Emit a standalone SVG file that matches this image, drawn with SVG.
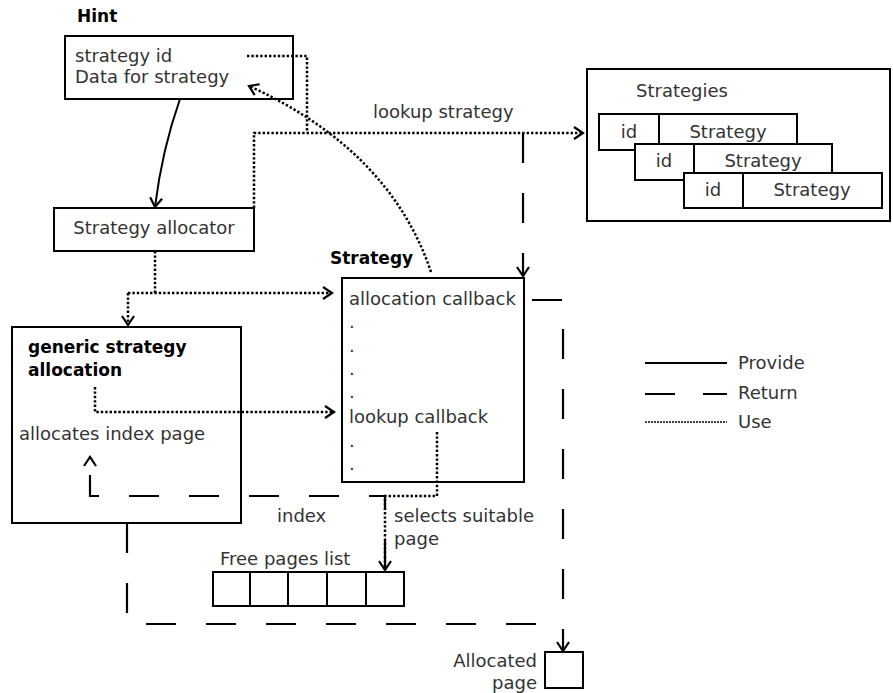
<svg xmlns="http://www.w3.org/2000/svg" width="893" height="693" viewBox="0 0 893 693">
  <style>
    .box { fill: #fff; stroke: #000; stroke-width: 2; }
    .t { font-family: "DejaVu Sans", sans-serif; font-size: 18px; fill: #333; }
    .b { font-family: "DejaVu Sans", sans-serif; font-size: 17px; font-weight: bold; fill: #000; }
    .c { text-anchor: middle; }
    .r { text-anchor: end; }
    .provide { fill: none; stroke: #000; stroke-width: 2; }
    .ret { fill: none; stroke: #000; stroke-width: 2.2; stroke-dasharray: 30 30; }
    .use { fill: none; stroke: #000; stroke-width: 2.5; stroke-dasharray: 2.4 2; }
    .ah { marker-end: url(#arrow); }
  </style>
  <defs>
    <marker id="arrow" markerUnits="userSpaceOnUse" markerWidth="20" markerHeight="20" viewBox="-12 -10 14 20" refX="0" refY="0" orient="auto">
      <path d="M-9,-6 L0,0 L-9,6" fill="none" stroke="#000" stroke-width="2.2"/>
    </marker>
  </defs>

  <!-- Hint -->
  <g id="hint">
    <text class="b" x="77" y="22">Hint</text>
    <rect class="box" x="65" y="36" width="228" height="63"/>
    <text class="t" x="75" y="62">strategy id</text>
    <text class="t" x="75" y="83">Data for strategy</text>
  </g>

  <!-- Strategy allocator -->
  <g id="strategy-allocator">
    <rect class="box" x="54" y="208" width="200" height="43"/>
    <text class="t c" x="154" y="234">Strategy allocator</text>
  </g>

  <!-- Strategies table -->
  <g id="strategies">
    <rect class="box" x="587" y="69" width="303" height="152"/>
    <text class="t" x="636" y="97">Strategies</text>
    <rect class="box" x="599" y="114" width="198" height="36"/>
    <line x1="659" y1="114" x2="659" y2="150" stroke="#000" stroke-width="2"/>
    <text class="t c" x="629" y="138">id</text>
    <text class="t c" x="728" y="138">Strategy</text>
    <rect class="box" x="635" y="144" width="197" height="36"/>
    <line x1="694" y1="144" x2="694" y2="180" stroke="#000" stroke-width="2"/>
    <text class="t c" x="664" y="167">id</text>
    <text class="t c" x="763" y="167">Strategy</text>
    <rect class="box" x="684" y="173" width="198" height="35"/>
    <line x1="743" y1="173" x2="743" y2="208" stroke="#000" stroke-width="2"/>
    <text class="t c" x="713" y="196">id</text>
    <text class="t c" x="812" y="196">Strategy</text>
  </g>

  <!-- Strategy -->
  <g id="strategy">
    <text class="b" x="330" y="264">Strategy</text>
    <rect class="box" x="342" y="278" width="182" height="204"/>
    <text class="t" x="349" y="305">allocation callback</text>
    <text class="t" x="349" y="328">.</text>
    <text class="t" x="349" y="352">.</text>
    <text class="t" x="349" y="375">.</text>
    <text class="t" x="349" y="398">.</text>
    <text class="t" x="349" y="423">lookup callback</text>
    <text class="t" x="349" y="447">.</text>
    <text class="t" x="349" y="470">.</text>
  </g>

  <!-- generic strategy allocation -->
  <g id="generic-allocation">
    <rect class="box" x="12" y="327" width="229" height="196"/>
    <text class="b" x="28" y="353">generic strategy</text>
    <text class="b" x="28" y="376">allocation</text>
    <text class="t" x="19" y="440">allocates index page</text>
  </g>

  <!-- Free pages list -->
  <g id="free-pages">
    <text class="t" x="220" y="565">Free pages list</text>
    <rect class="box" x="213" y="572" width="191" height="34"/>
    <line x1="250" y1="572" x2="250" y2="606" stroke="#000" stroke-width="2"/>
    <line x1="288" y1="572" x2="288" y2="606" stroke="#000" stroke-width="2"/>
    <line x1="327" y1="572" x2="327" y2="606" stroke="#000" stroke-width="2"/>
    <line x1="366" y1="572" x2="366" y2="606" stroke="#000" stroke-width="2"/>
  </g>

  <!-- Allocated page -->
  <g id="allocated-page">
    <rect class="box" x="545" y="652" width="38" height="36"/>
    <text class="t r" x="537" y="667">Allocated</text>
    <text class="t r" x="537" y="689">page</text>
  </g>

  <!-- Legend -->
  <g id="legend">
    <line class="provide" x1="645" y1="363" x2="727" y2="363"/>
    <text class="t" x="738" y="369">Provide</text>
    <line x1="645" y1="394" x2="675" y2="394" stroke="#000" stroke-width="2"/>
    <line x1="703" y1="394" x2="727" y2="394" stroke="#000" stroke-width="2"/>
    <text class="t" x="738" y="399">Return</text>
    <line x1="645" y1="422" x2="727" y2="422" stroke="#000" stroke-width="1.5" stroke-dasharray="2 1"/>
    <text class="t" x="738" y="428">Use</text>
  </g>

  <!-- Connectors -->
  <g id="connectors">
    <!-- hint provides the allocator -->
    <path class="provide ah" d="M180,99 Q162,150 155,207"/>
    <!-- strategy id feeds the lookup -->
    <path class="use" d="M247,56 H307 V133"/>
    <!-- lookup strategy -->
    <path class="use ah" d="M254,208 V133 H583"/>
    <text class="t" x="373" y="118">lookup strategy</text>
    <!-- lookup returns the strategy -->
    <path class="ret ah" d="M523,133 V276"/>
    <!-- strategy uses hint data -->
    <path class="use ah" d="M431,272 Q390,150 249,86"/>
    <!-- allocator calls strategy and generic allocation -->
    <path class="use" d="M155,251 V293"/>
    <path class="use ah" d="M128,293 H332"/>
    <path class="use ah" d="M128,293 V325"/>
    <!-- generic allocation uses lookup callback -->
    <path class="use ah" d="M95,387 V412 H334"/>
    <!-- lookup callback selects page -->
    <path class="use ah" d="M437,432 V496 H385 V570"/>
    <text class="t" x="394" y="522">selects suitable</text>
    <text class="t" x="394" y="545">page</text>
    <!-- index returned to generic allocation -->
    <path class="ret ah" d="M385,570 V496 H90 V457"/>
    <text class="t" x="277" y="522">index</text>
    <!-- allocated page returned -->
    <path class="ret ah" d="M532,300 H563 V651"/>
    <path class="ret" d="M127,523 V624 H563"/>
  </g>
</svg>
